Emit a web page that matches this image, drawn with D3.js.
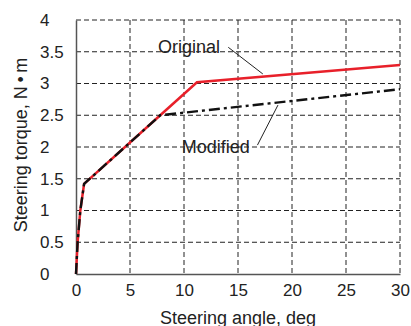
<!DOCTYPE html>
<html>
<head>
<meta charset="utf-8">
<script src="https://cdn.jsdelivr.net/npm/d3@7"></script>
<style>
  body { margin: 0; background: #fff; }
  text { font-family: "Liberation Sans", Arial, sans-serif; fill: #222; }
</style>
</head>
<body>
<div id="chart"></div>
<script>
// data
var angleOrig = [0, 0.15, 0.4, 0.75, 7.8, 11.2, 30];
var torqueOrig = [0, 0.5, 1.0, 1.42, 2.5, 3.02, 3.29];
var angleMod = [0, 0.15, 0.4, 0.75, 7.8, 30];
var torqueMod = [0, 0.5, 1.0, 1.42, 2.5, 2.91];

var xTicks = [0, 5, 10, 15, 20, 25, 30];
var yTicks = [0, 0.5, 1, 1.5, 2, 2.5, 3, 3.5, 4];

// annotation labels and leader lines (data units)
var labelNames = ["Original", "Modified"];
var labelAt = [[7.6, 3.48], [9.8, 1.91]];
var leaderFrom = [[14.1, 3.57], [16.8, 2.03]];
var leaderTo = [[17.3, 3.15], [18.7, 2.66]];

var W = 411, H = 326;
var margin = {top: 20, right: 11, bottom: 52, left: 76},
  width = W - margin.left - margin.right,
  height = H - margin.top - margin.bottom;

var svg = d3.select("#chart")
  .append("svg")
    .attr("width", W)
    .attr("height", H)
  .append("g")
    .attr("transform", "translate(" + margin.left + "," + margin.top + ")");

var x = d3.scaleLinear().domain([0, 30]).range([0, width]);
var y = d3.scaleLinear().domain([0, 4]).range([height, 0]);

// dashed grid
svg.append("g")
  .selectAll("line")
  .data(xTicks.slice(1))
  .enter().append("line")
    .attr("x1", d => x(d)).attr("x2", d => x(d))
    .attr("y1", 0).attr("y2", height)
    .style("stroke", "#222").style("stroke-width", 1)
    .style("stroke-dasharray", "5,3");

svg.append("g")
  .selectAll("line")
  .data(yTicks.slice(1))
  .enter().append("line")
    .attr("x1", 0).attr("x2", width)
    .attr("y1", d => y(d)).attr("y2", d => y(d))
    .style("stroke", "#222").style("stroke-width", 1)
    .style("stroke-dasharray", "5,3");

// axes
var xAxis = svg.append("g")
  .attr("transform", "translate(0," + height + ")")
  .call(d3.axisBottom(x).tickValues(xTicks).tickSize(0).tickPadding(10).tickFormat(d3.format("d")));
xAxis.select(".domain").style("stroke", "#555").style("stroke-width", 1.5);
xAxis.selectAll("text").style("font-size", "17px").style("fill", "#222");

var yAxis = svg.append("g")
  .call(d3.axisLeft(y).tickValues(yTicks).tickSize(0).tickFormat(d => d));
yAxis.select(".domain").style("stroke", "#555").style("stroke-width", 1.5);
yAxis.selectAll("text")
  .attr("x", -36)
  .attr("text-anchor", "start")
  .style("font-size", "17px").style("fill", "#222");

// lines
var line = d3.line().x(d => x(d[0])).y(d => y(d[1]));

svg.append("path")
  .datum(angleOrig.map((a, i) => [a, torqueOrig[i]]))
  .attr("d", line)
  .style("fill", "none")
  .style("stroke", "#e8202a")
  .style("stroke-width", 2.5);

svg.append("path")
  .datum(angleMod.map((a, i) => [a, torqueMod[i]]))
  .attr("d", line)
  .style("fill", "none")
  .style("stroke", "#111")
  .style("stroke-width", 2.4)
  .style("stroke-dasharray", "11,4,3,4");

// annotations
svg.selectAll(".leader")
  .data(labelNames)
  .enter().append("line")
    .attr("class", "leader")
    .attr("x1", (d, i) => x(leaderFrom[i][0])).attr("y1", (d, i) => y(leaderFrom[i][1]))
    .attr("x2", (d, i) => x(leaderTo[i][0])).attr("y2", (d, i) => y(leaderTo[i][1]))
    .style("stroke", "#222").style("stroke-width", 1);

svg.selectAll(".lbl")
  .data(labelNames)
  .enter().append("text")
    .attr("class", "lbl")
    .attr("x", (d, i) => x(labelAt[i][0]))
    .attr("y", (d, i) => y(labelAt[i][1]))
    .style("font-size", "18px")
    .text(d => d);

// axis titles
svg.append("text")
  .attr("x", width / 2)
  .attr("y", height + 50)
  .attr("text-anchor", "middle")
  .style("font-size", "18px")
  .text("Steering angle, deg");

svg.append("text")
  .attr("transform", "translate(-49," + (height / 2 - 2) + ") rotate(-90)")
  .attr("text-anchor", "middle")
  .style("font-size", "18px")
  .text("Steering torque, N\u2009\u2022\u2009m");
</script>
</body>
</html>
